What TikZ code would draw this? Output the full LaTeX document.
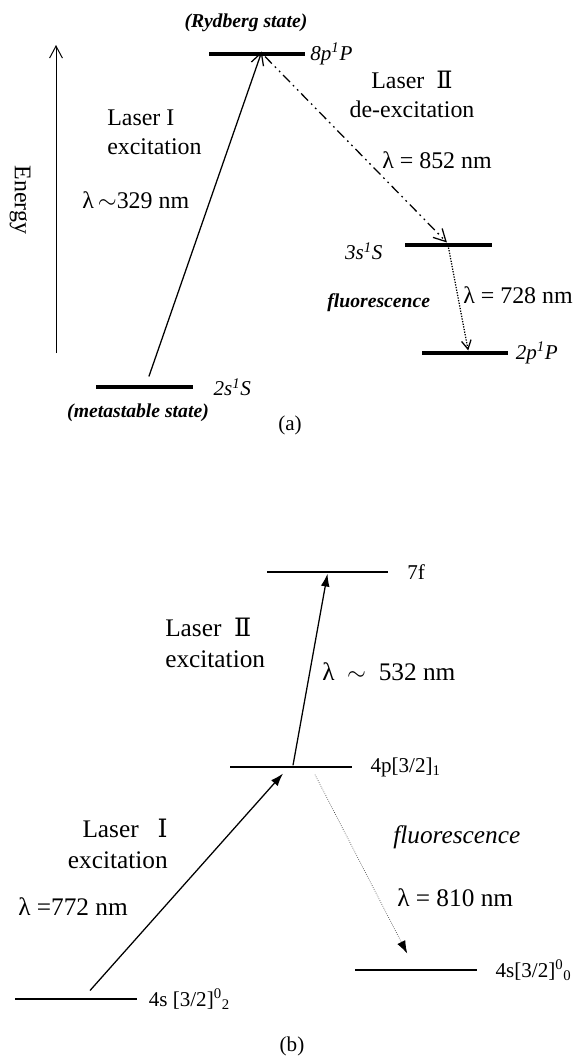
\documentclass[tikz,border=0pt]{standalone}
\usepackage{fontspec}
\setmainfont{Liberation Serif}
\newfontfamily\romfont{DejaVu Serif}
\usetikzlibrary{arrows.meta, positioning}

\begin{document}
\begin{tikzpicture}[
  x=0.025cm, y=-0.025cm,
  lvl/.style={fill=black, inner sep=0pt, minimum height=3.2pt},
  lvlb/.style={fill=black, inner sep=0pt, minimum height=2pt},
  txt/.style={font=\fontsize{17}{20.5}\selectfont, align=left, inner sep=0pt},
  txtb/.style={font=\fontsize{18}{22}\selectfont, align=left, inner sep=0pt},
  stt/.style={font=\fontsize{15}{18}\selectfont\itshape, inner sep=0pt},
  note/.style={font=\fontsize{14}{17}\selectfont\bfseries\itshape, inner sep=0pt},
  stb/.style={font=\fontsize{15}{18}\selectfont, inner sep=0pt},
  openarrow/.style={-{Straight Barb[length=3mm, width=3.2mm]}, line width=0.9pt},
  fillarrow/.style={-{Latex[length=3.2mm, width=2.2mm]}, line width=0.9pt}
]
\useasboundingbox (0,0) rectangle (581,1060);

% (a)
\node[lvl, minimum width=2.4cm] (p8) at (257,54) {};
\node[lvl, minimum width=2.425cm] (s2) at (144.5,387) {};
\node[lvl, minimum width=2.175cm] (s3) at (448.5,245) {};
\node[lvl, minimum width=2.15cm] (p2) at (465,353) {};

\node[stt, right=0.12cm of p8] (p8l) {8p\textsuperscript{1}P};
\node[stt, right=0.5cm of s2] (s2l) {2s\textsuperscript{1}S};
\node[stt, left=0.55cm of s3, yshift=-0.15cm] (s3l) {3s\textsuperscript{1}S};
\node[stt, right=0.18cm of p2] (p2l) {2p\textsuperscript{1}P};
\node[note] (ryd) at (246,23) {(Rydberg state)};
\node[note] (meta) at (138,413) {(metastable state)};

\coordinate (e0) at (56,353);
\coordinate (e1) at (56,45);
\draw[openarrow, line width=0.7pt] (e0) -- (e1);
\node[txt, rotate=-90] (en) at (20,200) {Energy};

\node[txt, anchor=west] (l1a) at (107,132) {Laser I\\excitation};
\node[txt, anchor=west] (w1a) at (82,200) {λ\,$\sim$329 nm};
\node[txt, align=center] (l2a) at (412,94) {Laser\ \ {\romfont Ⅱ}\\de-excitation};
\node[txt, anchor=west] (w2a) at (382,160) {λ = 852 nm};
\node[note, anchor=west] (fla) at (327,303) {fluorescence};
\node[txt, anchor=west] (w3a) at (463,295) {λ = 728 nm};
\node[stb] (capa) at (290,425) {(a)};

\draw[openarrow] ([xshift=0.11cm, yshift=0.2cm]s2.north) -- ([xshift=0.12cm]p8.north);
\draw[openarrow, dash pattern=on 7pt off 3pt on 1.2pt off 3pt on 1.2pt off 3pt] ([xshift=0.2cm]p8.south) -- ([xshift=-0.04cm]s3.north);
\draw[-{Straight Barb[length=2.2mm, width=2.4mm]}, line width=0.9pt, densely dotted] (s3.south) -- ([xshift=0.08cm]p2.north);

% (b)
\node[lvlb, minimum width=3.025cm] (f7) at (327.5,572) {};
\node[lvlb, minimum width=3.05cm] (p4) at (291,767) {};
\node[lvlb, minimum width=3.05cm] (s4a) at (76,999) {};
\node[lvlb, minimum width=3.05cm] (s4b) at (416,970) {};

\node[stb, right=0.47cm of f7] (f7l) {7f};
\node[stb, right=0.45cm of p4] (p4l) {4p[3/2]\textsubscript{1}};
\node[stb, right=0.28cm of s4a] (s4al) {4s [3/2]\textsuperscript{0}\textsubscript{2}};
\node[stb, right=0.45cm of s4b] (s4bl) {4s[3/2]\textsuperscript{0}\textsubscript{0}};

\node[txtb, anchor=west] (l2b) at (165,643) {Laser\ \ {\romfont Ⅱ}\\excitation};
\node[txtb, anchor=west] (w2b) at (322,672) {λ\ \ $\sim$\ \ 532 nm};
\node[txtb, align=right, anchor=east] (l1b) at (168,844) {Laser\ \ \ {\romfont Ⅰ}\\excitation};
\node[txtb, anchor=west] (w1b) at (18,907) {λ =772 nm};
\node[txtb, anchor=west, font=\fontsize{18}{22}\selectfont\itshape] (flb) at (393,837) {fluorescence};
\node[txtb, anchor=west] (w3b) at (397,898) {λ = 810 nm};
\node[stb] (capb) at (292,1046) {(b)};

\draw[fillarrow] ([xshift=0.35cm, yshift=0.17cm]s4a.north) -- ([xshift=-0.2cm, yshift=-0.12cm]p4.south);
\draw[fillarrow] ([xshift=0.05cm]p4.north) -- (f7.south);
\draw[-{Latex[length=3.2mm, width=2.2mm, black]}, line width=0.5pt, black!70, densely dotted] ([xshift=0.6cm, yshift=-0.15cm]p4.south) -- ([xshift=-0.22cm, yshift=0.37cm]s4b.north);
\end{tikzpicture}
\end{document}
